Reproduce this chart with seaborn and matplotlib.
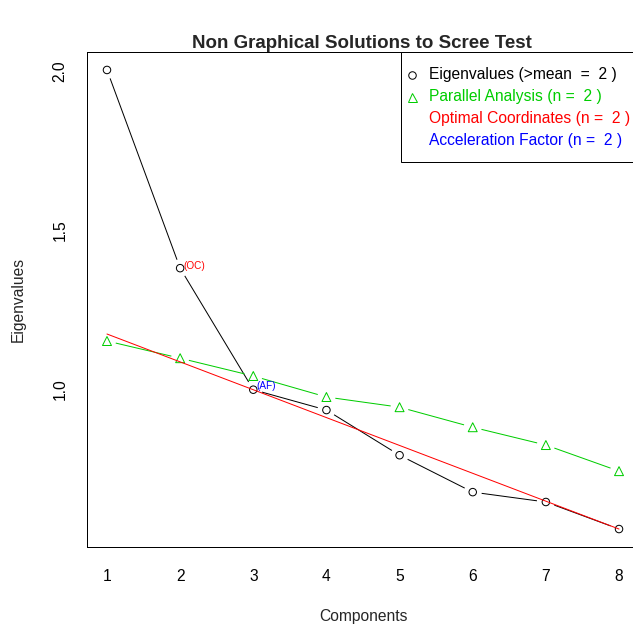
import numpy as np
import pandas as pd
import matplotlib
matplotlib.use("Agg")
import matplotlib.pyplot as plt
import seaborn as sns
from matplotlib.lines import Line2D
from matplotlib.patches import Rectangle

# ---- data ----
components = [1, 2, 3, 4, 5, 6, 7, 8]
eigenvalues = [2.003, 1.380, 0.998, 0.934, 0.792, 0.676, 0.645, 0.560]
parallel = [1.151, 1.097, 1.041, 0.975, 0.943, 0.880, 0.824, 0.742]
oc_x = [1, 8]
oc_y = [1.173, 0.560]
oc_component = 2
af_component = 3
x_ticks = [1, 2, 3, 4, 5, 6, 7, 8]
y_ticks = [1.0, 1.5, 2.0]
y_tick_labels = ["1.0", "1.5", "2.0"]
title = "Non Graphical Solutions to Scree Test"
x_label = "Components"
y_label = "Eigenvalues"
legend_labels = ["Eigenvalues (>mean  =  2 )",
                 "Parallel Analysis (n =  2 )",
                 "Optimal Coordinates (n =  2 )",
                 "Acceleration Factor (n =  2 )"]

GREEN = "#00CD00"
W, H, DPI = 633, 628, 72
FS = 15.6

sns.set_style("white")
plt.rcParams["font.family"] = ["Liberation Sans", "DejaVu Sans"]

df = pd.DataFrame({"Components": components, "Eigenvalues": eigenvalues, "Parallel": parallel})

fig = plt.figure(figsize=(W / DPI, H / DPI), dpi=DPI)
left_px, right_px, top_px, bottom_px = 86.5, 639.5, 51.6, 547.4
ax = fig.add_axes([left_px / W, 1 - bottom_px / H, (right_px - left_px) / W, (bottom_px - top_px) / H])

# R-style 4% padding
xr = max(components) - min(components)
ax.set_xlim(min(components) - 0.04 * xr, max(components) + 0.04 * xr)
ymin, ymax = min(eigenvalues), max(eigenvalues)
yr = ymax - ymin
ax.set_ylim(ymin - 0.04 * yr, ymax + 0.04 * yr)


def gapped(xs, ys, color, gap=9.0):
    tr = ax.transData
    pts = tr.transform(np.column_stack([xs, ys]))
    inv = tr.inverted()
    for p, q in zip(pts[:-1], pts[1:]):
        d = q - p
        L = np.hypot(*d)
        if L <= 2 * gap:
            continue
        u = d / L
        a = inv.transform(p + u * gap)
        b = inv.transform(q - u * gap)
        ax.plot([a[0], b[0]], [a[1], b[1]], color=color, lw=1.0, solid_capstyle="butt")


# eigenvalues (type "b")
gapped(components, eigenvalues, "black")
sns.scatterplot(data=df, x="Components", y="Eigenvalues", ax=ax, marker="o", s=56,
                facecolor="none", edgecolor="black", linewidth=1.0, zorder=3)
# parallel analysis
gapped(components, parallel, GREEN)
sns.scatterplot(data=df, x="Components", y="Parallel", ax=ax, marker="^", s=80,
                facecolor="none", edgecolor=GREEN, linewidth=1.0, zorder=3)
# optimal coordinates line
sns.lineplot(x=oc_x, y=oc_y, ax=ax, color="red", lw=1.0, zorder=4)

# labels
ax.annotate("(OC)", (oc_component, eigenvalues[oc_component - 1]), xytext=(3, 2),
            textcoords="offset points", ha="left", va="center", color="red", fontsize=10)
ax.annotate("(AF)", (af_component, eigenvalues[af_component - 1]), xytext=(3, 4),
            textcoords="offset points", ha="left", va="center", color="blue", fontsize=10)

# axes styling
for s in ax.spines.values():
    s.set_color("black")
    s.set_linewidth(1.0)
ax.set_xticks(x_ticks)
ax.set_xticklabels([str(t) for t in x_ticks])
ax.set_yticks(y_ticks)
ax.set_yticklabels(y_tick_labels, rotation=90, va="center")
ax.tick_params(axis="both", direction="out", length=9, width=1, color="#444444",
               labelsize=FS, colors="black")
ax.tick_params(axis="x", pad=13)
ax.tick_params(axis="y", pad=10)
ax.set_xlabel("")
ax.set_ylabel("")
ax.grid(False)

def fx(px):
    return px / W

def fy(py):
    return 1 - py / H

fig.text(fx(363), fy(616), x_label, ha="center", va="center", fontsize=FS)
fig.text(fx(18), fy(299), y_label, ha="center", va="center", rotation=90, fontsize=FS)
fig.text(fx(362), fy(43), title, ha="center", va="center", fontsize=FS * 1.2, fontweight="bold")

# legend box (R style, drawn manually)
fig.add_artist(Rectangle((fx(400.5), fy(162)), fx(700) - fx(400.5), fy(52) - fy(162),
                         transform=fig.transFigure, facecolor="white", edgecolor="black",
                         lw=1.0, zorder=10))
row_y = [75, 97, 119, 141]
colors = ["black", GREEN, "red", "blue"]
markers = ["o", "^", None, None]
msizes = [7.5, 9, 0, 0]
for lab, yy, c, m, ms in zip(legend_labels, row_y, colors, markers, msizes):
    if m is not None:
        fig.add_artist(Line2D([fx(412)], [fy(yy)], transform=fig.transFigure, marker=m, ls="",
                              mfc="none", mec=c, ms=ms, mew=1.0, zorder=11))
    fig.text(fx(429), fy(yy), lab, ha="left", va="center", color=c, fontsize=FS, zorder=11)

fig.savefig("out.png", dpi=DPI)
